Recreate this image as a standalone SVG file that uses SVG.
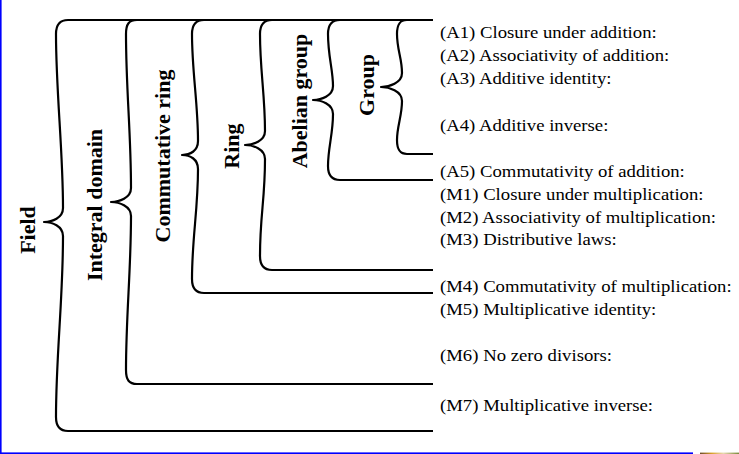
<svg xmlns="http://www.w3.org/2000/svg" width="739" height="454" viewBox="0 0 739 454">
<defs>
<style>
.brace{fill:none;stroke:#000;stroke-width:2.2;stroke-linecap:butt;stroke-linejoin:round}
.ax{font-family:"Liberation Serif","Times New Roman",serif;font-size:16px;fill:#000}
.lbl{font-family:"Liberation Serif","Times New Roman",serif;font-size:22px;font-weight:bold;fill:#000;text-anchor:middle}
</style>
<linearGradient id="strip" x1="0" y1="0" x2="1" y2="0">
<stop offset="0" stop-color="#6b4a2a"/>
<stop offset="0.3" stop-color="#d9a02a"/>
<stop offset="0.6" stop-color="#e8d8b0"/>
<stop offset="1" stop-color="#7a8a3a"/>
</linearGradient>
</defs>
<rect width="739" height="454" fill="#fff"/>
<rect x="0" y="0" width="1.6" height="454" fill="#0000ff"/>
<rect x="0" y="452.4" width="693" height="1.6" fill="#0000ff"/>
<rect x="700" y="452.6" width="39" height="1.4" fill="url(#strip)"/>

<g id="connectors">
<path id="field-brace" class="brace" d="M433,20 H68 C60,20 56,24 56,34 C56,92 63,150 63,208 C63,218 52,222 44,222 C52,222 63,226 63,236 C63,300 56,355 56,417 C56,427 60,431 68,431 H433"/>
<path id="integral-brace" class="brace" d="M433,20 H137 C129,20 126,24 126,34 C126,90 131,132 131,188 C131,198 119,202 111,202 C119,202 131,206 131,216 C131,270 126,316 126,370 C126,380 129,384 137,384 H433"/>
<path id="commutative-brace" class="brace" d="M433,20 H204 C196,20 192,24 192,34 C192,72 198,103 198,141 C198,151 190,155 182,155 C190,155 198,159 198,169 C198,210 192,238 192,279 C192,289 196,293 204,293 H433"/>
<path id="ring-brace" class="brace" d="M433,20 H272 C264,20 260,24 260,34 C260,70 265,95 265,131 C265,141 253,145 245,145 C253,145 265,149 265,159 C265,200 260,215 260,256 C260,266 264,270 272,270 H433"/>
<path id="abelian-brace" class="brace" d="M433,20 H340 C332,20 328,24 328,34 C328,56 333,70 333,86 C333,96 321,100 313,100 C321,100 333,104 333,114 C333,134 328,148 328,166 C328,176 332,180 340,180 H433"/>
<path id="group-brace" class="brace" d="M433,20 H407 C400,20 397,24 397,34 C397,50 402,58 402,73 C402,83 389,87 381,87 C389,87 402,91 402,101 C402,116 397,126 397,140 C397,150 400,154 407,154 H433"/>
</g>

<g id="field"><text class="lbl" transform="translate(35,230) rotate(-90)">Field</text></g>
<g id="integral-domain"><text class="lbl" transform="translate(102,205) rotate(-90)">Integral domain</text></g>
<g id="commutative-ring"><text class="lbl" transform="translate(170,156) rotate(-90)">Commutative ring</text></g>
<g id="ring"><text class="lbl" transform="translate(239,146) rotate(-90)">Ring</text></g>
<g id="abelian-group"><text class="lbl" transform="translate(307,101) rotate(-90)">Abelian group</text></g>
<g id="group"><text class="lbl" transform="translate(374,85) rotate(-90)">Group</text></g>

<g id="axioms" transform="translate(440,0) scale(1.17,1)">
<text class="ax" x="0" y="38">(A1) Closure under addition:</text>
<text class="ax" x="0" y="61">(A2) Associativity of addition:</text>
<text class="ax" x="0" y="84">(A3) Additive identity:</text>
<text class="ax" x="0" y="131">(A4) Additive inverse:</text>
<text class="ax" x="0" y="177">(A5) Commutativity of addition:</text>
<text class="ax" x="0" y="200">(M1) Closure under multiplication:</text>
<text class="ax" x="0" y="223">(M2) Associativity of multiplication:</text>
<text class="ax" x="0" y="245">(M3) Distributive laws:</text>
<text class="ax" x="0" y="292">(M4) Commutativity of multiplication:</text>
<text class="ax" x="0" y="315">(M5) Multiplicative identity:</text>
<text class="ax" x="0" y="361">(M6) No zero divisors:</text>
<text class="ax" x="0" y="411">(M7) Multiplicative inverse:</text>
</g>
</svg>
